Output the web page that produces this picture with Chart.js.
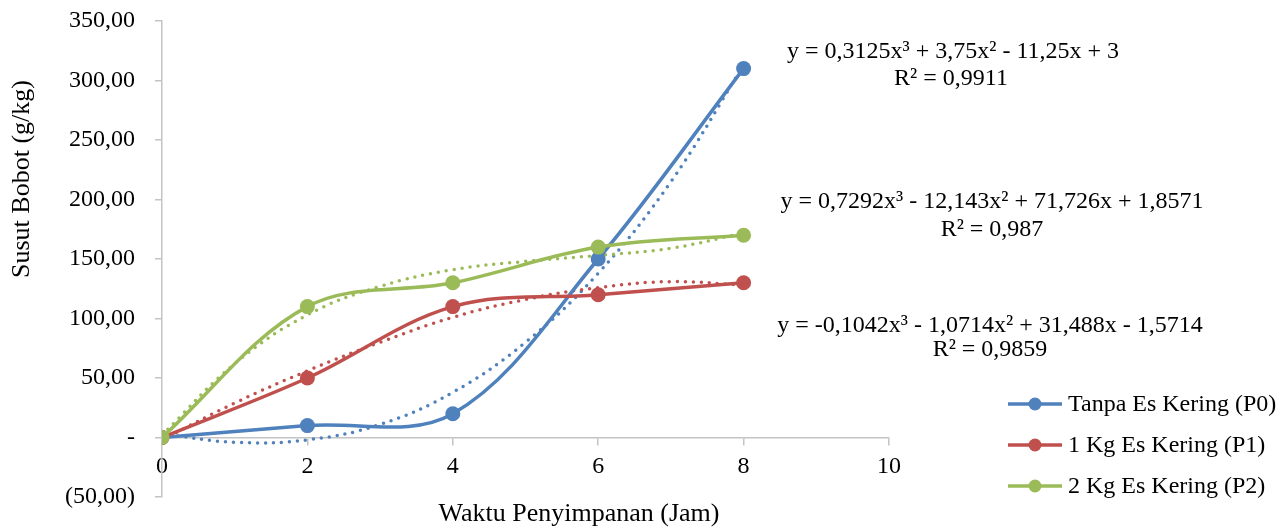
<!DOCTYPE html>
<html>
<head>
<meta charset="utf-8">
<script src="https://cdn.jsdelivr.net/npm/chart.js@4/dist/chart.umd.min.js"></script>
<style>
  body { margin: 0; background: #fff; }
  #wrap { width: 1288px; height: 528px; }
</style>
</head>
<body>
<div id="wrap"><canvas id="susut-chart" width="1288" height="528"></canvas></div>
<script>
// data
const jam = [0, 2, 4, 6, 8];
const tanpaEs = [0, 10, 20, 150, 310];
const esKering1 = [0, 50, 110, 120, 130];
const esKering2 = [0, 110, 130, 160, 170];

// polynomial trendlines (dotted)
const jamTren = [0, 1, 2, 3, 4, 5, 6, 7, 8];
const trenP0 = [3, -4, -2, 11, 38, 80, 138, 215, 313];
const trenP1 = [-2, 29, 56, 80, 101, 116, 126, 131, 128];
const trenP2 = [2, 62, 103, 127, 141, 148, 153, 159, 172];

const xTicks = [0, 2, 4, 6, 8, 10];
const yTicks = [-50, 0, 50, 100, 150, 200, 250, 300, 350];

const seriesNames = ["Tanpa Es Kering (P0)", "1 Kg Es Kering (P1)", "2 Kg Es Kering (P2)"];
const equations = [
  ["y = 0,3125x³ + 3,75x² - 11,25x + 3", "R² = 0,9911"],
  ["y = 0,7292x³ - 12,143x² + 71,726x + 1,8571", "R² = 0,987"],
  ["y = -0,1042x³ - 1,0714x² + 31,488x - 1,5714", "R² = 0,9859"],
];

const colors = ["#4F81BD", "#C0504D", "#9BBB59"];
const FONT = "'Liberation Serif', 'Times New Roman', serif";

function pts(xs, ys) {
  return xs.map((x, i) => ({ x: x, y: ys[i] }));
}

function fmtY(v) {
  if (v === 0) return "-";
  const s = Math.abs(v).toFixed(2).replace(".", ",");
  return v < 0 ? "(" + s + ")" : s;
}

const textPlugin = {
  id: "texts",
  afterDraw(chart) {
    const c = chart.ctx;
    c.save();
    c.fillStyle = "#000";

    // axis titles
    c.font = "26px " + FONT;
    c.textAlign = "center";
    c.textBaseline = "alphabetic";
    c.fillText("Waktu Penyimpanan (Jam)", 579, 521);
    c.save();
    c.translate(29, 179);
    c.rotate(-Math.PI / 2);
    c.fillText("Susut Bobot (g/kg)", 0, 0);
    c.restore();

    // trendline equations
    c.font = "24px " + FONT;
    const eqPos = [
      [953, 58, 951, 85],
      [992, 208, 992, 236],
      [990, 332, 990, 356],
    ];
    equations.forEach((eq, i) => {
      const p = eqPos[i];
      c.fillText(eq[0], p[0], p[1]);
      c.fillText(eq[1], p[2], p[3]);
    });

    // legend
    const legY = [404, 445, 486];
    c.textAlign = "left";
    c.textBaseline = "middle";
    seriesNames.forEach((name, i) => {
      c.strokeStyle = colors[i];
      c.lineWidth = 3.5;
      c.beginPath();
      c.moveTo(1008, legY[i]);
      c.lineTo(1062, legY[i]);
      c.stroke();
      c.fillStyle = colors[i];
      c.beginPath();
      c.arc(1035, legY[i], 6.5, 0, Math.PI * 2);
      c.fill();
      c.fillStyle = "#000";
      c.fillText(name, 1068, legY[i] + 1);
    });
    c.restore();
  },
};

const ctx = document.getElementById("susut-chart");

const mainData = [tanpaEs, esKering1, esKering2];
const trenData = [trenP0, trenP1, trenP2];

const datasets = [];
mainData.forEach((d, i) => {
  datasets.push({
    label: seriesNames[i],
    data: pts(jam, d),
    borderColor: colors[i],
    backgroundColor: colors[i],
    borderWidth: 3.5,
    pointRadius: 7.5,
    pointHoverRadius: 7.5,
    pointBorderWidth: 0,
    tension: 0.35,
    order: 2 - i,
  });
});
trenData.forEach((d, i) => {
  datasets.push({
    label: "tren " + seriesNames[i],
    data: pts(jamTren, d),
    borderColor: colors[i],
    borderWidth: 3.5,
    borderDash: [0, 8],
    borderCapStyle: "round",
    pointRadius: 0,
    tension: 0.4,
    order: 5 - i,
  });
});

const gray = "#C4C4C4";

new Chart(ctx, {
  type: "line",
  data: { datasets: datasets },
  plugins: [textPlugin],
  options: {
    responsive: false,
    animation: false,
    events: [],
    layout: { padding: { left: 0, right: 399, top: 21, bottom: 31 } },
    plugins: {
      legend: { display: false },
      tooltip: { enabled: false },
    },
    scales: {
      x: {
        type: "linear",
        position: { y: 0 },
        min: 0,
        max: 10,
        afterBuildTicks: (scale) => {
          scale.ticks = xTicks.map((v) => ({ value: v }));
        },
        grid: { drawOnChartArea: false, drawTicks: true, tickLength: 7, color: gray, lineWidth: 1.5 },
        border: { display: true, color: gray, width: 1.5 },
        ticks: {
          color: "#000",
          font: { family: FONT, size: 24 },
          padding: 8,
          maxRotation: 0,
        },
      },
      y: {
        type: "linear",
        position: "left",
        min: -50,
        max: 350,
        afterBuildTicks: (scale) => {
          scale.ticks = yTicks.map((v) => ({ value: v }));
        },
        afterFit: (scale) => {
          scale.width = 162;
          scale.paddingTop = 0;
          scale.paddingBottom = 0;
        },
        grid: { drawOnChartArea: false, drawTicks: true, tickLength: 7, color: gray, lineWidth: 1.5 },
        border: { display: true, color: gray, width: 1.5 },
        ticks: {
          color: "#000",
          font: { family: FONT, size: 24 },
          padding: 20,
          callback: (v) => fmtY(v),
        },
      },
    },
  },
});
</script>
</body>
</html>
